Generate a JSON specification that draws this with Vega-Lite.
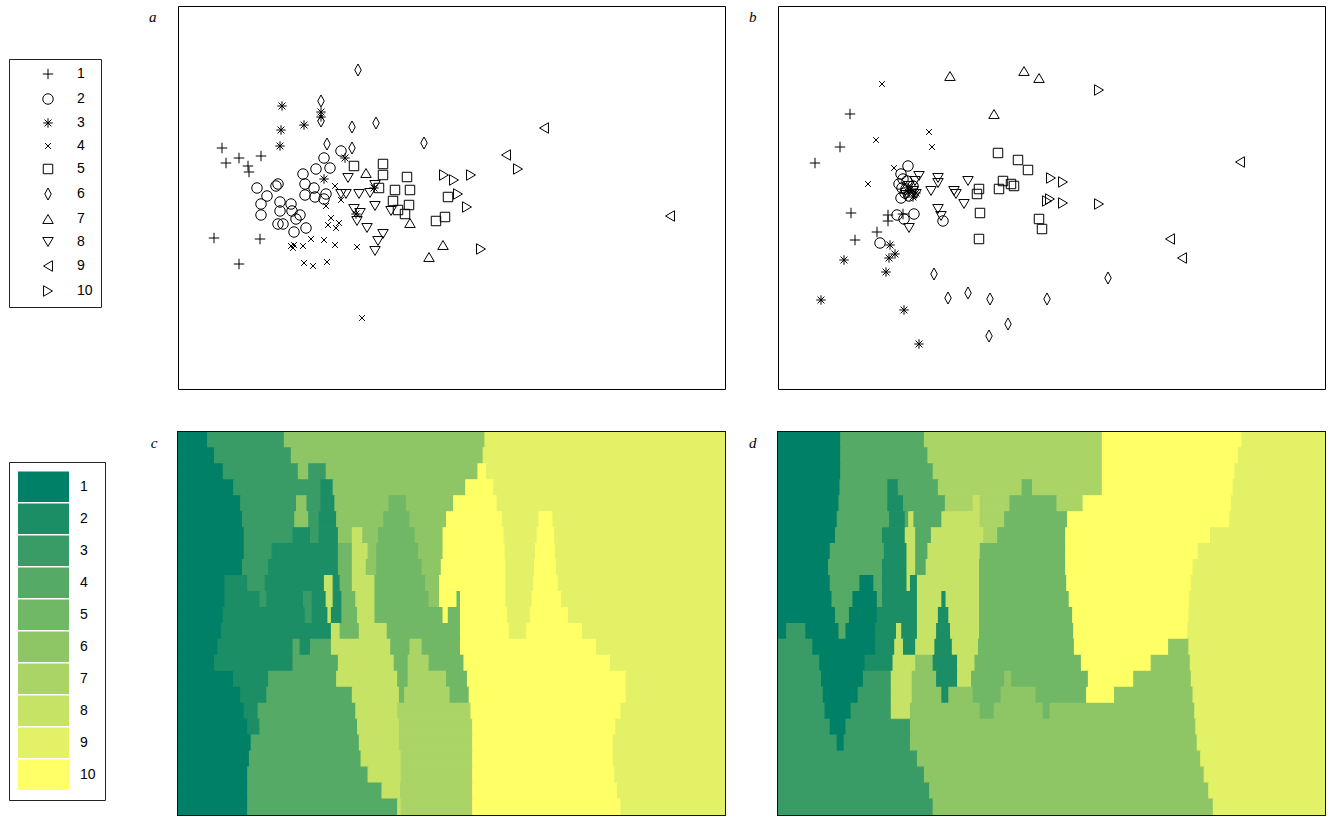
{
"$schema": "https://vega.github.io/schema/vega-lite/v6.json",
"padding": {"left": 8, "top": 5, "right": 10, "bottom": 1},
"background": "white",
"config": {
 "view": {"stroke": "#000", "strokeWidth": 1},
 "title": {"font": "Liberation Serif", "fontStyle": "italic", "fontSize": 15, "fontWeight": "normal", "orient": "left", "angle": 0, "anchor": "end", "offset": 14, "baseline": "top", "align": "right", "dy": 4, "color": "#000"}
},
"datasets": {
 "ptsA": [
  {"x":44,"y":241,"c":"1"},{"x":48,"y":226,"c":"1"},{"x":61,"y":231,"c":"1"},{"x":70,"y":223,"c":"1"},{"x":71,"y":217,"c":"1"},{"x":83,"y":233,"c":"1"},{"x":36,"y":151,"c":"1"},{"x":82,"y":150,"c":"1"},{"x":61,"y":125,"c":"1"},
  {"x":163,"y":238,"c":"2"},{"x":146,"y":231,"c":"2"},{"x":152,"y":221,"c":"2"},{"x":138,"y":220,"c":"2"},{"x":125,"y":215,"c":"2"},{"x":127,"y":205,"c":"2"},{"x":136,"y":201,"c":"2"},{"x":127,"y":194,"c":"2"},{"x":137,"y":192,"c":"2"},{"x":146,"y":190,"c":"2"},{"x":148,"y":195,"c":"2"},{"x":79,"y":201,"c":"2"},{"x":98,"y":203,"c":"2"},{"x":100,"y":205,"c":"2"},{"x":89,"y":193,"c":"2"},{"x":83,"y":185,"c":"2"},{"x":83,"y":174,"c":"2"},{"x":102,"y":187,"c":"2"},{"x":113,"y":185,"c":"2"},{"x":102,"y":178,"c":"2"},{"x":114,"y":178,"c":"2"},{"x":122,"y":174,"c":"2"},{"x":118,"y":170,"c":"2"},{"x":100,"y":165,"c":"2"},{"x":105,"y":165,"c":"2"},{"x":128,"y":161,"c":"2"},{"x":116,"y":157,"c":"2"},
  {"x":104,"y":283,"c":"3"},{"x":143,"y":277,"c":"3"},{"x":143,"y":272,"c":"3"},{"x":126,"y":264,"c":"3"},{"x":103,"y":259,"c":"3"},{"x":102,"y":243,"c":"3"},{"x":167,"y":231,"c":"3"},{"x":146,"y":210,"c":"3"},{"x":178,"y":175,"c":"3"},{"x":196,"y":201,"c":"3"},
  {"x":157,"y":203,"c":"4"},{"x":163,"y":189,"c":"4"},{"x":148,"y":183,"c":"4"},{"x":153,"y":171,"c":"4"},{"x":150,"y":164,"c":"4"},{"x":161,"y":166,"c":"4"},{"x":158,"y":161,"c":"4"},{"x":113,"y":143,"c":"4"},{"x":116,"y":144,"c":"4"},{"x":115,"y":141,"c":"4"},{"x":125,"y":143,"c":"4"},{"x":133,"y":150,"c":"4"},{"x":146,"y":149,"c":"4"},{"x":157,"y":144,"c":"4"},{"x":179,"y":142,"c":"4"},{"x":126,"y":126,"c":"4"},{"x":135,"y":123,"c":"4"},{"x":149,"y":127,"c":"4"},{"x":184,"y":71,"c":"4"},
  {"x":176,"y":223,"c":"5"},{"x":205,"y":225,"c":"5"},{"x":205,"y":214,"c":"5"},{"x":229,"y":212,"c":"5"},{"x":201,"y":201,"c":"5"},{"x":217,"y":199,"c":"5"},{"x":232,"y":199,"c":"5"},{"x":215,"y":188,"c":"5"},{"x":231,"y":184,"c":"5"},{"x":220,"y":179,"c":"5"},{"x":227,"y":175,"c":"5"},{"x":270,"y":192,"c":"5"},{"x":258,"y":168,"c":"5"},{"x":267,"y":172,"c":"5"},
  {"x":180,"y":319,"c":"6"},{"x":143,"y":288,"c":"6"},{"x":143,"y":268,"c":"6"},{"x":174,"y":262,"c":"6"},{"x":198,"y":266,"c":"6"},{"x":149,"y":245,"c":"6"},{"x":174,"y":241,"c":"6"},{"x":246,"y":246,"c":"6"},
  {"x":188,"y":216,"c":"7"},{"x":232,"y":166,"c":"7"},{"x":265,"y":144,"c":"7"},{"x":251,"y":132,"c":"7"},
  {"x":170,"y":211,"c":"8"},{"x":197,"y":204,"c":"8"},{"x":181,"y":195,"c":"8"},{"x":163,"y":195,"c":"8"},{"x":168,"y":195,"c":"8"},{"x":192,"y":196,"c":"8"},{"x":176,"y":180,"c":"8"},{"x":182,"y":176,"c":"8"},{"x":179,"y":168,"c":"8"},{"x":197,"y":183,"c":"8"},{"x":213,"y":178,"c":"8"},{"x":189,"y":161,"c":"8"},{"x":205,"y":155,"c":"8"},{"x":200,"y":148,"c":"8"},{"x":197,"y":138,"c":"8"},
  {"x":366,"y":261,"c":"9"},{"x":328,"y":234,"c":"9"},{"x":492,"y":173,"c":"9"},
  {"x":266,"y":214,"c":"10"},{"x":276,"y":209,"c":"10"},{"x":293,"y":214,"c":"10"},{"x":340,"y":220,"c":"10"},{"x":280,"y":195,"c":"10"},{"x":289,"y":182,"c":"10"},{"x":303,"y":140,"c":"10"}
 ],
 "ptsB": [
  {"x":72,"y":275,"c":"1"},{"x":62,"y":242,"c":"1"},{"x":37,"y":226,"c":"1"},{"x":73,"y":176,"c":"1"},{"x":110,"y":174,"c":"1"},{"x":110,"y":168,"c":"1"},{"x":125,"y":175,"c":"1"},{"x":99,"y":157,"c":"1"},{"x":77,"y":149,"c":"1"},
  {"x":130,"y":223,"c":"2"},{"x":123,"y":215,"c":"2"},{"x":125,"y":210,"c":"2"},{"x":128,"y":200,"c":"2"},{"x":123,"y":191,"c":"2"},{"x":135,"y":203,"c":"2"},{"x":131,"y":193,"c":"2"},{"x":119,"y":174,"c":"2"},{"x":136,"y":175,"c":"2"},{"x":126,"y":170,"c":"2"},{"x":102,"y":146,"c":"2"},{"x":165,"y":168,"c":"2"},{"x":121,"y":205,"c":"2"},{"x":129,"y":208,"c":"2"},{"x":127,"y":196,"c":"2"},{"x":124,"y":201,"c":"2"},
  {"x":112,"y":144,"c":"3"},{"x":117,"y":135,"c":"3"},{"x":111,"y":131,"c":"3"},{"x":66,"y":129,"c":"3"},{"x":108,"y":117,"c":"3"},{"x":43,"y":89,"c":"3"},{"x":126,"y":79,"c":"3"},{"x":141,"y":45,"c":"3"},{"x":133,"y":200,"c":"3"},{"x":138,"y":196,"c":"3"},{"x":130,"y":197,"c":"3"},{"x":135,"y":192,"c":"3"},
  {"x":104,"y":305,"c":"4"},{"x":151,"y":257,"c":"4"},{"x":154,"y":242,"c":"4"},{"x":98,"y":249,"c":"4"},{"x":90,"y":205,"c":"4"},{"x":116,"y":221,"c":"4"},
  {"x":220,"y":236,"c":"5"},{"x":240,"y":229,"c":"5"},{"x":250,"y":219,"c":"5"},{"x":225,"y":208,"c":"5"},{"x":221,"y":200,"c":"5"},{"x":233,"y":205,"c":"5"},{"x":236,"y":203,"c":"5"},{"x":201,"y":200,"c":"5"},{"x":199,"y":195,"c":"5"},{"x":202,"y":176,"c":"5"},{"x":201,"y":150,"c":"5"},{"x":261,"y":170,"c":"5"},{"x":264,"y":160,"c":"5"},
  {"x":156,"y":115,"c":"6"},{"x":170,"y":91,"c":"6"},{"x":190,"y":96,"c":"6"},{"x":212,"y":90,"c":"6"},{"x":230,"y":65,"c":"6"},{"x":211,"y":53,"c":"6"},{"x":269,"y":90,"c":"6"},{"x":330,"y":111,"c":"6"},
  {"x":172,"y":313,"c":"7"},{"x":246,"y":318,"c":"7"},{"x":261,"y":311,"c":"7"},{"x":216,"y":275,"c":"7"},
  {"x":141,"y":213,"c":"8"},{"x":137,"y":208,"c":"8"},{"x":160,"y":211,"c":"8"},{"x":160,"y":206,"c":"8"},{"x":153,"y":198,"c":"8"},{"x":190,"y":208,"c":"8"},{"x":176,"y":198,"c":"8"},{"x":178,"y":195,"c":"8"},{"x":186,"y":185,"c":"8"},{"x":160,"y":180,"c":"8"},{"x":163,"y":173,"c":"8"},{"x":131,"y":161,"c":"8"},{"x":138,"y":195,"c":"8"},{"x":131,"y":203,"c":"8"},{"x":135,"y":198,"c":"8"},{"x":128,"y":194,"c":"8"},
  {"x":462,"y":227,"c":"9"},{"x":392,"y":150,"c":"9"},{"x":404,"y":131,"c":"9"},
  {"x":321,"y":299,"c":"10"},{"x":273,"y":211,"c":"10"},{"x":285,"y":207,"c":"10"},{"x":272,"y":190,"c":"10"},{"x":269,"y":188,"c":"10"},{"x":285,"y":186,"c":"10"},{"x":321,"y":185,"c":"10"}
 ],
 "mapC": [
  {"x0":0,"x1":85,"y0":0,"y1":48,"k":1},{"x0":85,"x1":305,"y0":0,"y1":48,"k":3},{"x0":305,"x1":880,"y0":0,"y1":48,"k":6},{"x0":880,"x1":1568,"y0":0,"y1":48,"k":9},
  {"x0":0,"x1":105,"y0":48,"y1":96,"k":1},{"x0":105,"x1":325,"y0":48,"y1":96,"k":3},{"x0":325,"x1":875,"y0":48,"y1":96,"k":6},{"x0":875,"x1":1568,"y0":48,"y1":96,"k":9},
  {"x0":0,"x1":130,"y0":96,"y1":144,"k":1},{"x0":130,"x1":345,"y0":96,"y1":144,"k":3},{"x0":345,"x1":375,"y0":96,"y1":144,"k":6},{"x0":375,"x1":425,"y0":96,"y1":144,"k":3},{"x0":425,"x1":860,"y0":96,"y1":144,"k":6},{"x0":860,"x1":885,"y0":96,"y1":144,"k":10},{"x0":885,"x1":1568,"y0":96,"y1":144,"k":9},
  {"x0":0,"x1":160,"y0":144,"y1":192,"k":1},{"x0":160,"x1":410,"y0":144,"y1":192,"k":3},{"x0":410,"x1":445,"y0":144,"y1":192,"k":2},{"x0":445,"x1":825,"y0":144,"y1":192,"k":6},{"x0":825,"x1":905,"y0":144,"y1":192,"k":10},{"x0":905,"x1":1568,"y0":144,"y1":192,"k":9},
  {"x0":0,"x1":180,"y0":192,"y1":240,"k":1},{"x0":180,"x1":340,"y0":192,"y1":240,"k":3},{"x0":340,"x1":370,"y0":192,"y1":240,"k":6},{"x0":370,"x1":410,"y0":192,"y1":240,"k":3},{"x0":410,"x1":450,"y0":192,"y1":240,"k":2},{"x0":450,"x1":605,"y0":192,"y1":240,"k":6},{"x0":605,"x1":655,"y0":192,"y1":240,"k":5},{"x0":655,"x1":790,"y0":192,"y1":240,"k":6},{"x0":790,"x1":915,"y0":192,"y1":240,"k":10},{"x0":915,"x1":1568,"y0":192,"y1":240,"k":9},
  {"x0":0,"x1":185,"y0":240,"y1":288,"k":1},{"x0":185,"x1":335,"y0":240,"y1":288,"k":3},{"x0":335,"x1":375,"y0":240,"y1":288,"k":6},{"x0":375,"x1":405,"y0":240,"y1":288,"k":3},{"x0":405,"x1":455,"y0":240,"y1":288,"k":2},{"x0":455,"x1":590,"y0":240,"y1":288,"k":6},{"x0":590,"x1":665,"y0":240,"y1":288,"k":5},{"x0":665,"x1":770,"y0":240,"y1":288,"k":6},{"x0":770,"x1":930,"y0":240,"y1":288,"k":10},{"x0":930,"x1":1035,"y0":240,"y1":288,"k":9},{"x0":1035,"x1":1075,"y0":240,"y1":288,"k":10},{"x0":1075,"x1":1568,"y0":240,"y1":288,"k":9},
  {"x0":0,"x1":190,"y0":288,"y1":336,"k":1},{"x0":190,"x1":330,"y0":288,"y1":336,"k":3},{"x0":330,"x1":380,"y0":288,"y1":336,"k":2},{"x0":380,"x1":405,"y0":288,"y1":336,"k":3},{"x0":405,"x1":460,"y0":288,"y1":336,"k":2},{"x0":460,"x1":500,"y0":288,"y1":336,"k":6},{"x0":500,"x1":530,"y0":288,"y1":336,"k":8},{"x0":530,"x1":575,"y0":288,"y1":336,"k":6},{"x0":575,"x1":680,"y0":288,"y1":336,"k":5},{"x0":680,"x1":760,"y0":288,"y1":336,"k":6},{"x0":760,"x1":935,"y0":288,"y1":336,"k":10},{"x0":935,"x1":1030,"y0":288,"y1":336,"k":9},{"x0":1030,"x1":1080,"y0":288,"y1":336,"k":10},{"x0":1080,"x1":1568,"y0":288,"y1":336,"k":9},
  {"x0":0,"x1":190,"y0":336,"y1":384,"k":1},{"x0":190,"x1":270,"y0":336,"y1":384,"k":3},{"x0":270,"x1":460,"y0":336,"y1":384,"k":2},{"x0":460,"x1":500,"y0":336,"y1":384,"k":5},{"x0":500,"x1":545,"y0":336,"y1":384,"k":8},{"x0":545,"x1":570,"y0":336,"y1":384,"k":6},{"x0":570,"x1":690,"y0":336,"y1":384,"k":5},{"x0":690,"x1":760,"y0":336,"y1":384,"k":6},{"x0":760,"x1":938,"y0":336,"y1":384,"k":10},{"x0":938,"x1":1025,"y0":336,"y1":384,"k":9},{"x0":1025,"x1":1082,"y0":336,"y1":384,"k":10},{"x0":1082,"x1":1568,"y0":336,"y1":384,"k":9},
  {"x0":0,"x1":185,"y0":384,"y1":432,"k":1},{"x0":185,"x1":260,"y0":384,"y1":432,"k":3},{"x0":260,"x1":460,"y0":384,"y1":432,"k":2},{"x0":460,"x1":500,"y0":384,"y1":432,"k":5},{"x0":500,"x1":540,"y0":384,"y1":432,"k":8},{"x0":540,"x1":570,"y0":384,"y1":432,"k":6},{"x0":570,"x1":700,"y0":384,"y1":432,"k":5},{"x0":700,"x1":755,"y0":384,"y1":432,"k":6},{"x0":755,"x1":940,"y0":384,"y1":432,"k":10},{"x0":940,"x1":1022,"y0":384,"y1":432,"k":9},{"x0":1022,"x1":1085,"y0":384,"y1":432,"k":10},{"x0":1085,"x1":1568,"y0":384,"y1":432,"k":9},
  {"x0":0,"x1":135,"y0":432,"y1":480,"k":1},{"x0":135,"x1":200,"y0":432,"y1":480,"k":2},{"x0":200,"x1":250,"y0":432,"y1":480,"k":3},{"x0":250,"x1":420,"y0":432,"y1":480,"k":2},{"x0":420,"x1":445,"y0":432,"y1":480,"k":8},{"x0":445,"x1":465,"y0":432,"y1":480,"k":2},{"x0":465,"x1":500,"y0":432,"y1":480,"k":5},{"x0":500,"x1":565,"y0":432,"y1":480,"k":8},{"x0":565,"x1":710,"y0":432,"y1":480,"k":5},{"x0":710,"x1":750,"y0":432,"y1":480,"k":6},{"x0":750,"x1":940,"y0":432,"y1":480,"k":10},{"x0":940,"x1":1020,"y0":432,"y1":480,"k":9},{"x0":1020,"x1":1090,"y0":432,"y1":480,"k":10},{"x0":1090,"x1":1568,"y0":432,"y1":480,"k":9},
  {"x0":0,"x1":135,"y0":480,"y1":528,"k":1},{"x0":135,"x1":235,"y0":480,"y1":528,"k":2},{"x0":235,"x1":255,"y0":480,"y1":528,"k":3},{"x0":255,"x1":360,"y0":480,"y1":528,"k":2},{"x0":360,"x1":385,"y0":480,"y1":528,"k":3},{"x0":385,"x1":425,"y0":480,"y1":528,"k":2},{"x0":425,"x1":445,"y0":480,"y1":528,"k":8},{"x0":445,"x1":470,"y0":480,"y1":528,"k":2},{"x0":470,"x1":510,"y0":480,"y1":528,"k":5},{"x0":510,"x1":565,"y0":480,"y1":528,"k":8},{"x0":565,"x1":720,"y0":480,"y1":528,"k":5},{"x0":720,"x1":750,"y0":480,"y1":528,"k":6},{"x0":750,"x1":800,"y0":480,"y1":528,"k":10},{"x0":800,"x1":810,"y0":480,"y1":528,"k":5},{"x0":810,"x1":940,"y0":480,"y1":528,"k":10},{"x0":940,"x1":1015,"y0":480,"y1":528,"k":9},{"x0":1015,"x1":1100,"y0":480,"y1":528,"k":10},{"x0":1100,"x1":1568,"y0":480,"y1":528,"k":9},
  {"x0":0,"x1":130,"y0":528,"y1":576,"k":1},{"x0":130,"x1":365,"y0":528,"y1":576,"k":2},{"x0":365,"x1":385,"y0":528,"y1":576,"k":3},{"x0":385,"x1":430,"y0":528,"y1":576,"k":2},{"x0":430,"x1":440,"y0":528,"y1":576,"k":8},{"x0":440,"x1":470,"y0":528,"y1":576,"k":2},{"x0":470,"x1":515,"y0":528,"y1":576,"k":5},{"x0":515,"x1":565,"y0":528,"y1":576,"k":8},{"x0":565,"x1":760,"y0":528,"y1":576,"k":5},{"x0":760,"x1":775,"y0":528,"y1":576,"k":10},{"x0":775,"x1":810,"y0":528,"y1":576,"k":5},{"x0":810,"x1":945,"y0":528,"y1":576,"k":10},{"x0":945,"x1":1010,"y0":528,"y1":576,"k":9},{"x0":1010,"x1":1120,"y0":528,"y1":576,"k":10},{"x0":1120,"x1":1568,"y0":528,"y1":576,"k":9},
  {"x0":0,"x1":125,"y0":576,"y1":624,"k":1},{"x0":125,"x1":440,"y0":576,"y1":624,"k":2},{"x0":440,"x1":465,"y0":576,"y1":624,"k":8},{"x0":465,"x1":520,"y0":576,"y1":624,"k":5},{"x0":520,"x1":600,"y0":576,"y1":624,"k":8},{"x0":600,"x1":810,"y0":576,"y1":624,"k":5},{"x0":810,"x1":950,"y0":576,"y1":624,"k":10},{"x0":950,"x1":1000,"y0":576,"y1":624,"k":9},{"x0":1000,"x1":1160,"y0":576,"y1":624,"k":10},{"x0":1160,"x1":1568,"y0":576,"y1":624,"k":9},
  {"x0":0,"x1":115,"y0":624,"y1":672,"k":1},{"x0":115,"x1":330,"y0":624,"y1":672,"k":2},{"x0":330,"x1":350,"y0":624,"y1":672,"k":4},{"x0":350,"x1":380,"y0":624,"y1":672,"k":2},{"x0":380,"x1":440,"y0":624,"y1":672,"k":4},{"x0":440,"x1":610,"y0":624,"y1":672,"k":8},{"x0":610,"x1":665,"y0":624,"y1":672,"k":5},{"x0":665,"x1":700,"y0":624,"y1":672,"k":7},{"x0":700,"x1":810,"y0":624,"y1":672,"k":5},{"x0":810,"x1":1200,"y0":624,"y1":672,"k":10},{"x0":1200,"x1":1568,"y0":624,"y1":672,"k":9},
  {"x0":0,"x1":105,"y0":672,"y1":720,"k":1},{"x0":105,"x1":330,"y0":672,"y1":720,"k":2},{"x0":330,"x1":460,"y0":672,"y1":720,"k":4},{"x0":460,"x1":620,"y0":672,"y1":720,"k":8},{"x0":620,"x1":660,"y0":672,"y1":720,"k":5},{"x0":660,"x1":720,"y0":672,"y1":720,"k":7},{"x0":720,"x1":820,"y0":672,"y1":720,"k":5},{"x0":820,"x1":1240,"y0":672,"y1":720,"k":10},{"x0":1240,"x1":1568,"y0":672,"y1":720,"k":9},
  {"x0":0,"x1":160,"y0":720,"y1":768,"k":1},{"x0":160,"x1":260,"y0":720,"y1":768,"k":2},{"x0":260,"x1":455,"y0":720,"y1":768,"k":4},{"x0":455,"x1":630,"y0":720,"y1":768,"k":8},{"x0":630,"x1":660,"y0":720,"y1":768,"k":5},{"x0":660,"x1":770,"y0":720,"y1":768,"k":7},{"x0":770,"x1":830,"y0":720,"y1":768,"k":5},{"x0":830,"x1":1285,"y0":720,"y1":768,"k":10},{"x0":1285,"x1":1568,"y0":720,"y1":768,"k":9},
  {"x0":0,"x1":180,"y0":768,"y1":816,"k":1},{"x0":180,"x1":255,"y0":768,"y1":816,"k":2},{"x0":255,"x1":500,"y0":768,"y1":816,"k":4},{"x0":500,"x1":635,"y0":768,"y1":816,"k":8},{"x0":635,"x1":650,"y0":768,"y1":816,"k":5},{"x0":650,"x1":780,"y0":768,"y1":816,"k":7},{"x0":780,"x1":835,"y0":768,"y1":816,"k":5},{"x0":835,"x1":1285,"y0":768,"y1":816,"k":10},{"x0":1285,"x1":1568,"y0":768,"y1":816,"k":9},
  {"x0":0,"x1":190,"y0":816,"y1":864,"k":1},{"x0":190,"x1":230,"y0":816,"y1":864,"k":2},{"x0":230,"x1":510,"y0":816,"y1":864,"k":4},{"x0":510,"x1":630,"y0":816,"y1":864,"k":8},{"x0":630,"x1":840,"y0":816,"y1":864,"k":7},{"x0":840,"x1":1270,"y0":816,"y1":864,"k":10},{"x0":1270,"x1":1568,"y0":816,"y1":864,"k":9},
  {"x0":0,"x1":200,"y0":864,"y1":912,"k":1},{"x0":200,"x1":235,"y0":864,"y1":912,"k":2},{"x0":235,"x1":515,"y0":864,"y1":912,"k":4},{"x0":515,"x1":635,"y0":864,"y1":912,"k":8},{"x0":635,"x1":845,"y0":864,"y1":912,"k":7},{"x0":845,"x1":1255,"y0":864,"y1":912,"k":10},{"x0":1255,"x1":1568,"y0":864,"y1":912,"k":9},
  {"x0":0,"x1":210,"y0":912,"y1":960,"k":1},{"x0":210,"x1":520,"y0":912,"y1":960,"k":4},{"x0":520,"x1":635,"y0":912,"y1":960,"k":8},{"x0":635,"x1":845,"y0":912,"y1":960,"k":7},{"x0":845,"x1":1248,"y0":912,"y1":960,"k":10},{"x0":1248,"x1":1568,"y0":912,"y1":960,"k":9},
  {"x0":0,"x1":205,"y0":960,"y1":1008,"k":1},{"x0":205,"x1":525,"y0":960,"y1":1008,"k":4},{"x0":525,"x1":640,"y0":960,"y1":1008,"k":8},{"x0":640,"x1":845,"y0":960,"y1":1008,"k":7},{"x0":845,"x1":1248,"y0":960,"y1":1008,"k":10},{"x0":1248,"x1":1568,"y0":960,"y1":1008,"k":9},
  {"x0":0,"x1":200,"y0":1008,"y1":1056,"k":1},{"x0":200,"x1":545,"y0":1008,"y1":1056,"k":4},{"x0":545,"x1":640,"y0":1008,"y1":1056,"k":8},{"x0":640,"x1":845,"y0":1008,"y1":1056,"k":7},{"x0":845,"x1":1252,"y0":1008,"y1":1056,"k":10},{"x0":1252,"x1":1568,"y0":1008,"y1":1056,"k":9},
  {"x0":0,"x1":200,"y0":1056,"y1":1104,"k":1},{"x0":200,"x1":585,"y0":1056,"y1":1104,"k":4},{"x0":585,"x1":638,"y0":1056,"y1":1104,"k":8},{"x0":638,"x1":845,"y0":1056,"y1":1104,"k":7},{"x0":845,"x1":1260,"y0":1056,"y1":1104,"k":10},{"x0":1260,"x1":1568,"y0":1056,"y1":1104,"k":9},
  {"x0":0,"x1":200,"y0":1104,"y1":1152,"k":1},{"x0":200,"x1":630,"y0":1104,"y1":1152,"k":4},{"x0":630,"x1":640,"y0":1104,"y1":1152,"k":8},{"x0":640,"x1":845,"y0":1104,"y1":1152,"k":7},{"x0":845,"x1":1270,"y0":1104,"y1":1152,"k":10},{"x0":1270,"x1":1568,"y0":1104,"y1":1152,"k":9}
 ],
 "mapD": [
  {"x0":0,"x1":180,"y0":0,"y1":48,"k":1},{"x0":180,"x1":420,"y0":0,"y1":48,"k":4},{"x0":420,"x1":930,"y0":0,"y1":48,"k":7},{"x0":930,"x1":1330,"y0":0,"y1":48,"k":10},{"x0":1330,"x1":1568,"y0":0,"y1":48,"k":9},
  {"x0":0,"x1":180,"y0":48,"y1":96,"k":1},{"x0":180,"x1":430,"y0":48,"y1":96,"k":4},{"x0":430,"x1":930,"y0":48,"y1":96,"k":7},{"x0":930,"x1":1320,"y0":48,"y1":96,"k":10},{"x0":1320,"x1":1568,"y0":48,"y1":96,"k":9},
  {"x0":0,"x1":180,"y0":96,"y1":144,"k":1},{"x0":180,"x1":445,"y0":96,"y1":144,"k":4},{"x0":445,"x1":930,"y0":96,"y1":144,"k":7},{"x0":930,"x1":1310,"y0":96,"y1":144,"k":10},{"x0":1310,"x1":1568,"y0":96,"y1":144,"k":9},
  {"x0":0,"x1":178,"y0":144,"y1":192,"k":1},{"x0":178,"x1":315,"y0":144,"y1":192,"k":4},{"x0":315,"x1":345,"y0":144,"y1":192,"k":2},{"x0":345,"x1":460,"y0":144,"y1":192,"k":4},{"x0":460,"x1":700,"y0":144,"y1":192,"k":7},{"x0":700,"x1":730,"y0":144,"y1":192,"k":5},{"x0":730,"x1":930,"y0":144,"y1":192,"k":7},{"x0":930,"x1":1305,"y0":144,"y1":192,"k":10},{"x0":1305,"x1":1568,"y0":144,"y1":192,"k":9},
  {"x0":0,"x1":175,"y0":192,"y1":240,"k":1},{"x0":175,"x1":315,"y0":192,"y1":240,"k":4},{"x0":315,"x1":360,"y0":192,"y1":240,"k":2},{"x0":360,"x1":480,"y0":192,"y1":240,"k":4},{"x0":480,"x1":560,"y0":192,"y1":240,"k":7},{"x0":560,"x1":580,"y0":192,"y1":240,"k":8},{"x0":580,"x1":665,"y0":192,"y1":240,"k":7},{"x0":665,"x1":800,"y0":192,"y1":240,"k":5},{"x0":800,"x1":875,"y0":192,"y1":240,"k":7},{"x0":875,"x1":1300,"y0":192,"y1":240,"k":10},{"x0":1300,"x1":1568,"y0":192,"y1":240,"k":9},
  {"x0":0,"x1":170,"y0":240,"y1":288,"k":1},{"x0":170,"x1":320,"y0":240,"y1":288,"k":4},{"x0":320,"x1":365,"y0":240,"y1":288,"k":2},{"x0":365,"x1":375,"y0":240,"y1":288,"k":4},{"x0":375,"x1":390,"y0":240,"y1":288,"k":8},{"x0":390,"x1":470,"y0":240,"y1":288,"k":4},{"x0":470,"x1":580,"y0":240,"y1":288,"k":8},{"x0":580,"x1":650,"y0":240,"y1":288,"k":7},{"x0":650,"x1":830,"y0":240,"y1":288,"k":5},{"x0":830,"x1":1295,"y0":240,"y1":288,"k":10},{"x0":1295,"x1":1568,"y0":240,"y1":288,"k":9},
  {"x0":0,"x1":165,"y0":288,"y1":336,"k":1},{"x0":165,"x1":300,"y0":288,"y1":336,"k":4},{"x0":300,"x1":365,"y0":288,"y1":336,"k":2},{"x0":365,"x1":395,"y0":288,"y1":336,"k":8},{"x0":395,"x1":440,"y0":288,"y1":336,"k":4},{"x0":440,"x1":590,"y0":288,"y1":336,"k":8},{"x0":590,"x1":630,"y0":288,"y1":336,"k":7},{"x0":630,"x1":825,"y0":288,"y1":336,"k":5},{"x0":825,"x1":1240,"y0":288,"y1":336,"k":10},{"x0":1240,"x1":1568,"y0":288,"y1":336,"k":9},
  {"x0":0,"x1":150,"y0":336,"y1":384,"k":1},{"x0":150,"x1":305,"y0":336,"y1":384,"k":4},{"x0":305,"x1":370,"y0":336,"y1":384,"k":2},{"x0":370,"x1":395,"y0":336,"y1":384,"k":8},{"x0":395,"x1":430,"y0":336,"y1":384,"k":4},{"x0":430,"x1":580,"y0":336,"y1":384,"k":8},{"x0":580,"x1":825,"y0":336,"y1":384,"k":5},{"x0":825,"x1":1205,"y0":336,"y1":384,"k":10},{"x0":1205,"x1":1568,"y0":336,"y1":384,"k":9},
  {"x0":0,"x1":145,"y0":384,"y1":432,"k":1},{"x0":145,"x1":300,"y0":384,"y1":432,"k":4},{"x0":300,"x1":370,"y0":384,"y1":432,"k":2},{"x0":370,"x1":395,"y0":384,"y1":432,"k":8},{"x0":395,"x1":425,"y0":384,"y1":432,"k":4},{"x0":425,"x1":578,"y0":384,"y1":432,"k":8},{"x0":578,"x1":825,"y0":384,"y1":432,"k":5},{"x0":825,"x1":1190,"y0":384,"y1":432,"k":10},{"x0":1190,"x1":1568,"y0":384,"y1":432,"k":9},
  {"x0":0,"x1":150,"y0":432,"y1":480,"k":1},{"x0":150,"x1":235,"y0":432,"y1":480,"k":4},{"x0":235,"x1":275,"y0":432,"y1":480,"k":1},{"x0":275,"x1":300,"y0":432,"y1":480,"k":4},{"x0":300,"x1":370,"y0":432,"y1":480,"k":2},{"x0":370,"x1":380,"y0":432,"y1":480,"k":8},{"x0":380,"x1":400,"y0":432,"y1":480,"k":2},{"x0":400,"x1":578,"y0":432,"y1":480,"k":8},{"x0":578,"x1":828,"y0":432,"y1":480,"k":5},{"x0":828,"x1":1185,"y0":432,"y1":480,"k":10},{"x0":1185,"x1":1568,"y0":432,"y1":480,"k":9},
  {"x0":0,"x1":155,"y0":480,"y1":528,"k":1},{"x0":155,"x1":215,"y0":480,"y1":528,"k":4},{"x0":215,"x1":285,"y0":480,"y1":528,"k":1},{"x0":285,"x1":300,"y0":480,"y1":528,"k":4},{"x0":300,"x1":400,"y0":480,"y1":528,"k":2},{"x0":400,"x1":470,"y0":480,"y1":528,"k":8},{"x0":470,"x1":482,"y0":480,"y1":528,"k":2},{"x0":482,"x1":578,"y0":480,"y1":528,"k":8},{"x0":578,"x1":835,"y0":480,"y1":528,"k":5},{"x0":835,"x1":1180,"y0":480,"y1":528,"k":10},{"x0":1180,"x1":1568,"y0":480,"y1":528,"k":9},
  {"x0":0,"x1":165,"y0":528,"y1":576,"k":1},{"x0":165,"x1":205,"y0":528,"y1":576,"k":4},{"x0":205,"x1":285,"y0":528,"y1":576,"k":1},{"x0":285,"x1":400,"y0":528,"y1":576,"k":2},{"x0":400,"x1":460,"y0":528,"y1":576,"k":8},{"x0":460,"x1":490,"y0":528,"y1":576,"k":2},{"x0":490,"x1":578,"y0":528,"y1":576,"k":8},{"x0":578,"x1":845,"y0":528,"y1":576,"k":5},{"x0":845,"x1":1178,"y0":528,"y1":576,"k":10},{"x0":1178,"x1":1568,"y0":528,"y1":576,"k":9},
  {"x0":0,"x1":25,"y0":576,"y1":624,"k":1},{"x0":25,"x1":80,"y0":576,"y1":624,"k":3},{"x0":80,"x1":175,"y0":576,"y1":624,"k":1},{"x0":175,"x1":195,"y0":576,"y1":624,"k":4},{"x0":195,"x1":280,"y0":576,"y1":624,"k":1},{"x0":280,"x1":340,"y0":576,"y1":624,"k":2},{"x0":340,"x1":355,"y0":576,"y1":624,"k":8},{"x0":355,"x1":400,"y0":576,"y1":624,"k":2},{"x0":400,"x1":455,"y0":576,"y1":624,"k":8},{"x0":455,"x1":495,"y0":576,"y1":624,"k":2},{"x0":495,"x1":578,"y0":576,"y1":624,"k":8},{"x0":578,"x1":848,"y0":576,"y1":624,"k":5},{"x0":848,"x1":1175,"y0":576,"y1":624,"k":10},{"x0":1175,"x1":1568,"y0":576,"y1":624,"k":9},
  {"x0":0,"x1":100,"y0":624,"y1":672,"k":3},{"x0":100,"x1":280,"y0":624,"y1":672,"k":1},{"x0":280,"x1":335,"y0":624,"y1":672,"k":2},{"x0":335,"x1":360,"y0":624,"y1":672,"k":8},{"x0":360,"x1":395,"y0":624,"y1":672,"k":2},{"x0":395,"x1":450,"y0":624,"y1":672,"k":8},{"x0":450,"x1":500,"y0":624,"y1":672,"k":2},{"x0":500,"x1":575,"y0":624,"y1":672,"k":8},{"x0":575,"x1":850,"y0":624,"y1":672,"k":5},{"x0":850,"x1":1120,"y0":624,"y1":672,"k":10},{"x0":1120,"x1":1178,"y0":624,"y1":672,"k":6},{"x0":1178,"x1":1568,"y0":624,"y1":672,"k":9},
  {"x0":0,"x1":120,"y0":672,"y1":720,"k":3},{"x0":120,"x1":250,"y0":672,"y1":720,"k":1},{"x0":250,"x1":330,"y0":672,"y1":720,"k":2},{"x0":330,"x1":395,"y0":672,"y1":720,"k":8},{"x0":395,"x1":445,"y0":672,"y1":720,"k":6},{"x0":445,"x1":515,"y0":672,"y1":720,"k":2},{"x0":515,"x1":565,"y0":672,"y1":720,"k":8},{"x0":565,"x1":870,"y0":672,"y1":720,"k":5},{"x0":870,"x1":1070,"y0":672,"y1":720,"k":10},{"x0":1070,"x1":1182,"y0":672,"y1":720,"k":6},{"x0":1182,"x1":1568,"y0":672,"y1":720,"k":9},
  {"x0":0,"x1":125,"y0":720,"y1":768,"k":3},{"x0":125,"x1":245,"y0":720,"y1":768,"k":1},{"x0":245,"x1":325,"y0":720,"y1":768,"k":3},{"x0":325,"x1":385,"y0":720,"y1":768,"k":8},{"x0":385,"x1":455,"y0":720,"y1":768,"k":6},{"x0":455,"x1":515,"y0":720,"y1":768,"k":2},{"x0":515,"x1":555,"y0":720,"y1":768,"k":8},{"x0":555,"x1":650,"y0":720,"y1":768,"k":5},{"x0":650,"x1":670,"y0":720,"y1":768,"k":6},{"x0":670,"x1":890,"y0":720,"y1":768,"k":5},{"x0":890,"x1":1020,"y0":720,"y1":768,"k":10},{"x0":1020,"x1":1185,"y0":720,"y1":768,"k":6},{"x0":1185,"x1":1568,"y0":720,"y1":768,"k":9},
  {"x0":0,"x1":130,"y0":768,"y1":816,"k":3},{"x0":130,"x1":230,"y0":768,"y1":816,"k":1},{"x0":230,"x1":325,"y0":768,"y1":816,"k":3},{"x0":325,"x1":385,"y0":768,"y1":816,"k":8},{"x0":385,"x1":470,"y0":768,"y1":816,"k":6},{"x0":470,"x1":490,"y0":768,"y1":816,"k":2},{"x0":490,"x1":560,"y0":768,"y1":816,"k":6},{"x0":560,"x1":640,"y0":768,"y1":816,"k":5},{"x0":640,"x1":740,"y0":768,"y1":816,"k":6},{"x0":740,"x1":885,"y0":768,"y1":816,"k":5},{"x0":885,"x1":965,"y0":768,"y1":816,"k":10},{"x0":965,"x1":1190,"y0":768,"y1":816,"k":6},{"x0":1190,"x1":1568,"y0":768,"y1":816,"k":9},
  {"x0":0,"x1":135,"y0":816,"y1":864,"k":3},{"x0":135,"x1":210,"y0":816,"y1":864,"k":1},{"x0":210,"x1":325,"y0":816,"y1":864,"k":3},{"x0":325,"x1":380,"y0":816,"y1":864,"k":8},{"x0":380,"x1":580,"y0":816,"y1":864,"k":6},{"x0":580,"x1":620,"y0":816,"y1":864,"k":5},{"x0":620,"x1":760,"y0":816,"y1":864,"k":6},{"x0":760,"x1":780,"y0":816,"y1":864,"k":5},{"x0":780,"x1":1195,"y0":816,"y1":864,"k":6},{"x0":1195,"x1":1568,"y0":816,"y1":864,"k":9},
  {"x0":0,"x1":150,"y0":864,"y1":912,"k":3},{"x0":150,"x1":195,"y0":864,"y1":912,"k":1},{"x0":195,"x1":380,"y0":864,"y1":912,"k":3},{"x0":380,"x1":1198,"y0":864,"y1":912,"k":6},{"x0":1198,"x1":1568,"y0":864,"y1":912,"k":9},
  {"x0":0,"x1":170,"y0":912,"y1":960,"k":3},{"x0":170,"x1":190,"y0":912,"y1":960,"k":1},{"x0":190,"x1":380,"y0":912,"y1":960,"k":3},{"x0":380,"x1":1202,"y0":912,"y1":960,"k":6},{"x0":1202,"x1":1568,"y0":912,"y1":960,"k":9},
  {"x0":0,"x1":400,"y0":960,"y1":1008,"k":3},{"x0":400,"x1":1212,"y0":960,"y1":1008,"k":6},{"x0":1212,"x1":1568,"y0":960,"y1":1008,"k":9},
  {"x0":0,"x1":420,"y0":1008,"y1":1056,"k":3},{"x0":420,"x1":1222,"y0":1008,"y1":1056,"k":6},{"x0":1222,"x1":1568,"y0":1008,"y1":1056,"k":9},
  {"x0":0,"x1":435,"y0":1056,"y1":1104,"k":3},{"x0":435,"x1":1235,"y0":1056,"y1":1104,"k":6},{"x0":1235,"x1":1568,"y0":1056,"y1":1104,"k":9},
  {"x0":0,"x1":445,"y0":1104,"y1":1152,"k":3},{"x0":445,"x1":1248,"y0":1104,"y1":1152,"k":6},{"x0":1248,"x1":1568,"y0":1104,"y1":1152,"k":9}
 ]
},
"bounds": "flush",
"columns": 2,
"spacing": {"row": 43, "column": 53},
"concat": [
  {"width": 547, "height": 383, "title": {"text": "a"}, "data": {"name": "ptsA"},
   "mark": {"type": "point", "filled": false, "color": "black", "strokeWidth": 1, "size": 110, "opacity": 1},
   "encoding": {
    "x": {"field": "x", "type": "quantitative", "scale": {"domain": [0, 547], "nice": false, "zero": false}, "axis": null},
    "y": {"field": "y", "type": "quantitative", "scale": {"domain": [0, 383], "nice": false, "zero": false}, "axis": null},
    "shape": {"field": "c", "type": "nominal",
     "scale": {"domain": ["1","2","3","4","5","6","7","8","9","10"], "range": ["M-1,0H1M0,-1V1", "circle", "M-0.9,0H0.9M0,-0.9V0.9M-0.65,-0.65L0.65,0.65M-0.65,0.65L0.65,-0.65", "M-0.55,-0.55L0.55,0.55M-0.55,0.55L0.55,-0.55", "M-0.9,-0.9H0.9V0.9H-0.9Z", "M0,-1.15L0.62,0L0,1.15L-0.62,0Z", "M0,-0.85L1,0.85H-1Z", "M-1,-0.85H1L0,0.85Z", "M-0.85,0L0.85,-1V1Z", "M0.85,0L-0.85,-1V1Z"]},
     "legend": {"orient": "none", "legendX": -169, "legendY": 53, "title": null, "strokeColor": "#222", "fillColor": "white", "padding": 8, "symbolOffset": 24, "labelOffset": 22, "rowPadding": 9, "symbolStrokeColor": "black", "symbolFillColor": "transparent", "symbolStrokeWidth": 1, "symbolSize": 110, "labelFont": "Liberation Sans", "labelFontSize": 14, "labelColor": "black"}}
   }},
  {"width": 547, "height": 383, "title": {"text": "b"}, "data": {"name": "ptsB"},
   "mark": {"type": "point", "filled": false, "color": "black", "strokeWidth": 1, "size": 110, "opacity": 1},
   "encoding": {
    "x": {"field": "x", "type": "quantitative", "scale": {"domain": [0, 547], "nice": false, "zero": false}, "axis": null},
    "y": {"field": "y", "type": "quantitative", "scale": {"domain": [0, 383], "nice": false, "zero": false}, "axis": null},
    "shape": {"field": "c", "type": "nominal",
     "scale": {"domain": ["1","2","3","4","5","6","7","8","9","10"], "range": ["M-1,0H1M0,-1V1", "circle", "M-0.9,0H0.9M0,-0.9V0.9M-0.65,-0.65L0.65,0.65M-0.65,0.65L0.65,-0.65", "M-0.55,-0.55L0.55,0.55M-0.55,0.55L0.55,-0.55", "M-0.9,-0.9H0.9V0.9H-0.9Z", "M0,-1.15L0.62,0L0,1.15L-0.62,0Z", "M0,-0.85L1,0.85H-1Z", "M-1,-0.85H1L0,0.85Z", "M-0.85,0L0.85,-1V1Z", "M0.85,0L-0.85,-1V1Z"]},
     "legend": {"orient": "none", "legendX": -169, "legendY": 53, "title": null, "strokeColor": "#222", "fillColor": "white", "padding": 8, "symbolOffset": 24, "labelOffset": 22, "rowPadding": 9, "symbolStrokeColor": "black", "symbolFillColor": "transparent", "symbolStrokeWidth": 1, "symbolSize": 110, "labelFont": "Liberation Sans", "labelFontSize": 14, "labelColor": "black"}}
   }},
  {"width": 547, "height": 383, "title": {"text": "c"}, "data": {"name": "mapC"},
   "view": {"stroke": "#111", "strokeWidth": 2},
   "mark": {"type": "rect", "strokeWidth": 1.2, "clip": true},
   "encoding": {
    "x": {"field": "x0", "type": "quantitative", "scale": {"domain": [0, 1568], "nice": false, "zero": false}, "axis": null},
    "x2": {"field": "x1"},
    "y": {"field": "y0", "type": "quantitative", "scale": {"domain": [0, 1152], "nice": false, "zero": false, "reverse": true}, "axis": null},
    "y2": {"field": "y1"},
    "fill": {"field": "k", "type": "nominal",
     "scale": {"domain": [1,2,3,4,5,6,7,8,9,10], "range": ["#008066","#1c8e66","#399c66","#55aa66","#71b866","#8ec666","#aad566","#c6e366","#e3f166","#ffff66"]},
     "legend": {"orient": "none", "legendX": -169, "legendY": 456, "title": null, "strokeColor": "#222", "fillColor": "white", "padding": 9, "symbolType": "M-1,-0.6H1V0.6H-1Z", "symbolSize": 2601, "symbolStrokeWidth": 0, "symbolOffset": 0, "labelOffset": 11, "clipHeight": 31.6, "rowPadding": 0, "labelFont": "Liberation Sans", "labelFontSize": 14, "labelColor": "black"}},
    "stroke": {"field": "k", "type": "nominal",
     "scale": {"domain": [1,2,3,4,5,6,7,8,9,10], "range": ["#008066","#1c8e66","#399c66","#55aa66","#71b866","#8ec666","#aad566","#c6e366","#e3f166","#ffff66"]},
     "legend": null}
   }},
  {"width": 547, "height": 383, "title": {"text": "d"}, "data": {"name": "mapD"},
   "view": {"stroke": "#111", "strokeWidth": 2},
   "mark": {"type": "rect", "strokeWidth": 1.2, "clip": true},
   "encoding": {
    "x": {"field": "x0", "type": "quantitative", "scale": {"domain": [0, 1568], "nice": false, "zero": false}, "axis": null},
    "x2": {"field": "x1"},
    "y": {"field": "y0", "type": "quantitative", "scale": {"domain": [0, 1152], "nice": false, "zero": false, "reverse": true}, "axis": null},
    "y2": {"field": "y1"},
    "fill": {"field": "k", "type": "nominal",
     "scale": {"domain": [1,2,3,4,5,6,7,8,9,10], "range": ["#008066","#1c8e66","#399c66","#55aa66","#71b866","#8ec666","#aad566","#c6e366","#e3f166","#ffff66"]},
     "legend": {"orient": "none", "legendX": -169, "legendY": 456, "title": null, "strokeColor": "#222", "fillColor": "white", "padding": 9, "symbolType": "M-1,-0.6H1V0.6H-1Z", "symbolSize": 2601, "symbolStrokeWidth": 0, "symbolOffset": 0, "labelOffset": 11, "clipHeight": 31.6, "rowPadding": 0, "labelFont": "Liberation Sans", "labelFontSize": 14, "labelColor": "black"}},
    "stroke": {"field": "k", "type": "nominal",
     "scale": {"domain": [1,2,3,4,5,6,7,8,9,10], "range": ["#008066","#1c8e66","#399c66","#55aa66","#71b866","#8ec666","#aad566","#c6e366","#e3f166","#ffff66"]},
     "legend": null}
   }}
]
}
